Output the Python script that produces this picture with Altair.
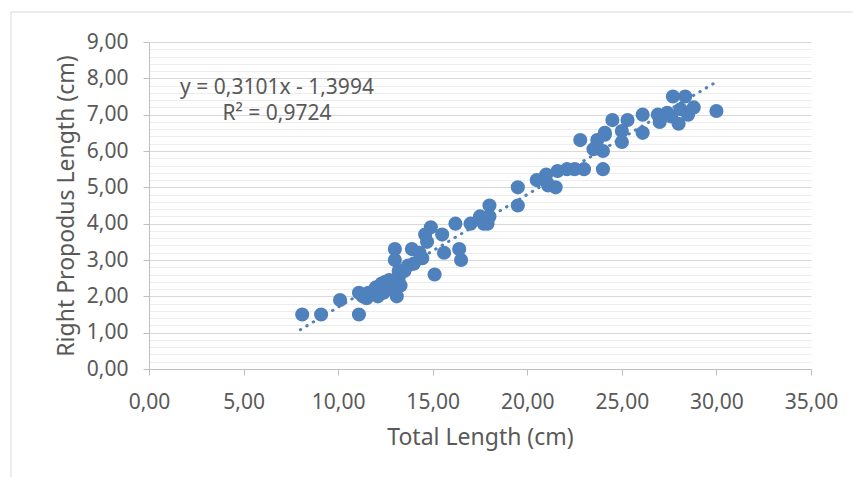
import altair as alt
import pandas as pd

# Data
total_length = [8.1, 9.1, 10.1, 11.1, 11.1, 11.3, 11.5, 11.6, 11.9, 12.0, 12.1, 12.3, 12.4, 12.5,
                12.7, 12.8, 13.0, 13.0, 13.1, 13.2, 13.2, 13.3, 13.5, 13.7, 13.9, 14.0, 14.3, 14.45,
                14.6, 14.7, 14.9, 15.1, 15.5, 15.6, 16.2, 16.4, 16.5, 17.0, 17.5, 17.7, 17.9, 18.0,
                18.0, 19.5, 19.5, 20.5, 21.0, 21.1, 21.5, 21.6, 22.1, 22.5, 22.8, 23.0, 23.5, 23.7,
                24.0, 24.0, 24.1, 24.1, 24.5, 25.0, 25.0, 25.3, 26.1, 26.1, 26.9, 27.0, 27.4, 27.6,
                27.7, 28.0, 28.1, 28.35, 28.5, 28.8, 30.0]
right_propodus = [1.5, 1.5, 1.9, 1.5, 2.1, 2.0, 1.95, 2.1, 2.05, 2.25, 2.0, 2.35, 2.1, 2.4,
                  2.45, 2.2, 3.3, 3.0, 2.0, 2.5, 2.7, 2.3, 2.7, 2.85, 3.3, 2.9, 3.2, 3.05,
                  3.7, 3.5, 3.9, 2.6, 3.7, 3.2, 4.0, 3.3, 3.0, 4.0, 4.2, 4.0, 4.0, 4.5,
                  4.2, 4.5, 5.0, 5.2, 5.35, 5.05, 5.0, 5.45, 5.5, 5.5, 6.3, 5.5, 6.05, 6.3,
                  5.5, 6.0, 6.45, 6.5, 6.85, 6.25, 6.55, 6.85, 6.5, 7.0, 7.0, 6.8, 7.05, 6.95,
                  7.5, 6.75, 7.15, 7.5, 7.0, 7.2, 7.1]

# Trendline (as printed on the chart)
trend_slope = 0.3101
trend_intercept = -1.3994
trend_x = [8.0, 30.0]
trend_label = ["y = 0,3101x - 1,3994", "R² = 0,9724"]

x_ticks = [0, 5, 10, 15, 20, 25, 30, 35]
y_ticks = [0, 1, 2, 3, 4, 5, 6, 7, 8, 9]
minor_y = [i / 5 for i in range(1, 45) if i % 5]

FONT = "Noto Sans"
TXT = "#595959"
PT = "#4F81BD"

pts = pd.DataFrame({"x": total_length, "y": right_propodus})
trend = pd.DataFrame({"x": trend_x})
minor = pd.DataFrame({"y": minor_y})

fmt = "replace(format(datum.value, '.2f'), '.', ',')"

xscale = alt.Scale(domain=[0, 35], nice=False, zero=True)
yscale = alt.Scale(domain=[0, 9], nice=False)

x_axis = alt.Axis(values=x_ticks, labelExpr=fmt, title="Total Length (cm)",
                  grid=False, domainColor="#BFBFBF", tickColor="#BFBFBF",
                  tickSize=6, labelPadding=16, titlePadding=14,
                  labelFlush=False, labelOverlap=False)
y_axis = alt.Axis(values=y_ticks, labelExpr=fmt, title="Right Propodus Length (cm)",
                  grid=True, gridColor="#D9D9D9", domainColor="#BFBFBF",
                  tickColor="#BFBFBF", tickSize=6, labelPadding=15, titlePadding=8,
                  labelFlush=False, labelOverlap=False, labelSeparation=0)
minor_axis = alt.Axis(values=minor_y, grid=True, gridColor="#EDEDED", labels=False,
                      ticks=False, domain=False, title=None, orient="right")

minor_grid = alt.Chart(minor).mark_rule(strokeOpacity=0).encode(
    y=alt.Y("y:Q", scale=yscale, axis=minor_axis)
)

points = alt.Chart(pts).mark_point(filled=True, size=200, opacity=1, color=PT).encode(
    x=alt.X("x:Q", scale=xscale, axis=x_axis),
    y=alt.Y("y:Q", scale=yscale, axis=y_axis),
)

trend_line = alt.Chart(trend).transform_calculate(
    yt=f"{trend_slope} * datum.x + ({trend_intercept})"
).mark_line(color=PT, strokeWidth=3, strokeDash=[0.5, 7], strokeCap="round").encode(
    x=alt.X("x:Q", scale=xscale, axis=None),
    y=alt.Y("yt:Q", scale=yscale, axis=None),
)

label_df = pd.DataFrame({"t": trend_label, "i": [0, 1]})
labels = alt.Chart(label_df).transform_calculate(
    py="46 + datum.i * 26"
).mark_text(align="center", baseline="middle", font=FONT, fontSize=21, color=TXT).encode(
    x=alt.value(128),
    y=alt.Y("py:Q", scale=None, axis=None),
    text="t:N",
)

border_top = alt.Chart(pd.DataFrame({"a": [0]})).mark_rule(color="#D9D9D9").encode(
    x=alt.value(-138), x2=alt.value(704), y=alt.value(-30)
)
border_left = alt.Chart(pd.DataFrame({"a": [0]})).mark_rule(color="#D9D9D9").encode(
    x=alt.value(-138), y=alt.value(-30), y2=alt.value(435)
)

chart = alt.layer(minor_grid, points, trend_line, labels, border_top, border_left).resolve_axis(
    y="independent", x="independent"
).properties(
    width=662, height=327,
    autosize=alt.AutoSizeParams(type="none"),
    padding={"left": 149, "top": 42, "right": 42, "bottom": 108},
).configure_view(stroke=None).configure_axis(
    labelFont=FONT, titleFont=FONT, labelColor=TXT, titleColor=TXT,
    labelFontSize=21, titleFontSize=23, titleFontWeight="normal",
).configure_axisY(labelOverlap=False)

chart.save("out.html", embed_options={"renderer": "svg", "actions": False})
